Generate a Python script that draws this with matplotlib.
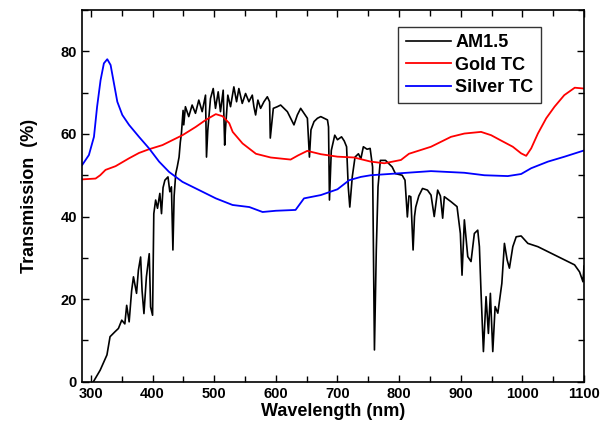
import numpy as np
import matplotlib
matplotlib.use('Agg')
import matplotlib.pyplot as plt
from matplotlib.ticker import MultipleLocator

# AM1.5 spectrum (scaled)
am_wl = [304, 315, 326, 331, 339, 344.6, 350, 355, 358, 362, 366, 369, 374, 377, 380.6,
         383, 386, 390, 394.6, 396.8, 400, 402, 405, 408, 411.8, 414.5, 417, 420, 425,
         428, 430.6, 433, 435, 437.6, 440, 443, 445, 446.8, 449.5, 450.6, 453.3, 458.7,
         464.2, 469.6, 475, 480.5, 485.9, 487.5, 489.6, 494, 498.4, 502.1, 506.5, 510.2,
         514.6, 517, 518.4, 522.1, 526.5, 531.9, 536.3, 540, 545.5, 550.9, 556.3, 561.8,
         564.4, 567.2, 570.9, 575.3, 580.7, 586.2, 589.9, 591, 595.9, 602.4, 607.8,
         613.2, 618.7, 624, 629.4, 634.9, 640.3, 645.7, 651.2, 654.5, 657, 662, 667.5,
         672.9, 678.2, 683.8, 685.5, 687, 690, 695.6, 700, 706.6, 711, 714.8, 717.5, 720,
         722, 724, 728.5, 734, 738, 742, 748, 753, 757, 760, 763, 765.8, 769.6, 778,
         788.8, 794, 805, 809.6, 813.4, 816, 819, 822.7, 825, 827, 832, 838, 846, 851.8,
         857, 862.6, 867, 870.7, 873.4, 884.2, 894, 899.4, 902.1, 905.9, 911.4, 916.7,
         922.1, 927.6, 930.3, 933, 936.8, 941.1, 944.9, 948.1, 952, 955.8, 960.2, 966.7,
         970.9, 975.3, 979, 984.5, 990, 998, 1008.9, 1025.2, 1046.8, 1068.5, 1084.7,
         1092.8, 1098.4, 1100]
am_t = [0, 2.8, 6.5, 10.9, 12.1, 12.9, 14.9, 14.0, 18.5, 14.5, 22, 25.4, 21.4, 27, 30.2,
        22, 16.5, 25.4, 31, 18.1, 16.1, 40.7, 44, 42, 45.6, 40.7, 47, 48.8, 49.6,
        46, 47.2, 31.9, 45, 50.4, 52, 54.4, 58, 60.1, 65.7, 62.2, 66.6, 64.2,
        67, 65, 68.2, 65.4, 69.4, 54.4, 60.9, 68.6, 71, 66.2, 70.2, 65.4,
        70.6, 57.3, 61.4, 69.4, 66.6, 71.4, 67.8, 71, 67.4, 69.8, 67.8, 69.4,
        66.6, 64.6, 68.2, 66.2, 67.8, 69, 67.8, 59, 66.2, 66.6, 67,
        66.2, 65.4, 63.8, 62.2, 64.6, 66.2, 65, 63.8, 54.4, 61, 63, 63.8,
        64.2, 63.8, 63.4, 61.7, 44, 56, 59.7, 58.6, 59.3, 58.3, 56.9, 47.2, 42.3,
        46, 49.6, 54.4, 55.2, 54, 56.9, 56.3, 56.5, 52, 7.7, 31.9, 47.2, 53.6, 53.6,
        52, 50.4, 50, 48.8, 39.9, 45, 44.8, 31.9, 40, 42.3, 45, 46.8, 46.4, 45.2,
        40, 46.4, 45, 39.6, 44.8, 43.6, 42.4, 35.9, 25.8, 39.2, 30.3, 29.1,
        35.9, 36.7, 32.7, 21.4, 7.3, 20.6, 11.7, 21.4, 7.3, 18.2, 16.6, 23.8,
        33.5, 29.5, 27.5, 32.7, 35.1, 35.3, 33.5, 32.7, 31.1, 29.5, 28.3,
        26.6, 24.2, 28]

# Gold TC
gold_wl = [285.9, 307.5, 315, 323.7, 340, 361.8, 378, 394.3, 416, 432.2, 448.5, 470,
           486.3, 502.6, 513.5, 524.4, 530, 546, 567.7, 591.6, 610.8, 624, 636, 651,
           673, 700, 727, 754, 776, 803, 816, 851.7, 884.2, 905.9, 933, 949.3, 965.5,
           984.5, 998, 1006.2, 1014.3, 1025.2, 1038.7, 1052.2, 1068, 1085, 1100]
gold_t = [49, 49.2, 50, 51.3, 52.2, 54.1, 55.4, 56.3, 57.3, 58.5, 59.7, 61.7,
          63.4, 64.8, 64.3, 62.6, 60.5, 57.7, 55.2, 54.3, 54, 53.8, 54.8, 55.9,
          55.1, 54.5, 54.3, 53.3, 52.9, 53.7, 55.2, 56.9, 59.3, 60.1, 60.5, 59.7, 58.4,
          56.9, 55.3, 54.7, 56.5, 60.1, 63.8, 66.6, 69.4, 71.2, 71]

# Silver TC
silver_wl = [285.9, 296.7, 304.9, 310, 315.6, 321, 326.5, 331.9, 337.4, 342.8, 350.9,
             361.8, 378, 394.3, 410.6, 426.8, 448.5, 475.6, 502.6, 529.8, 557, 578.5,
             600, 632, 645.7, 673, 700, 719, 738, 754, 803, 851.7, 905.9, 938.4, 976.4,
             998, 1014.3, 1041.5, 1068.5, 1100]
silver_t = [52.5, 54.9, 59.3, 66.6, 73, 77.1, 78.1, 76.7, 72.2, 67.8, 64.6,
            62.2, 59.3, 56.5, 53.3, 50.8, 48.4, 46.4, 44.4, 42.8, 42.3, 41.1,
            41.4, 41.6, 44.4, 45.2, 46.6, 48.8, 49.6, 50, 50.5, 51, 50.6, 50, 49.8,
            50.3, 51.7, 53.3, 54.5, 56]

plt.rcParams['font.family'] = ['Liberation Sans', 'DejaVu Sans']
plt.rcParams['font.weight'] = 'bold'

fig = plt.figure(figsize=(6.11, 4.38), dpi=100)
ax = fig.add_axes([0.1337, 0.1285, 0.8221, 0.8485])

ax.plot(am_wl, am_t, color='black', lw=1.2, label='AM1.5')
ax.plot(gold_wl, gold_t, color='red', lw=1.3, label='Gold TC')
ax.plot(silver_wl, silver_t, color='blue', lw=1.3, label='Silver TC')

ax.set_xlim(285, 1100)
ax.set_ylim(0, 90)
ax.xaxis.set_major_locator(MultipleLocator(100))
ax.xaxis.set_minor_locator(MultipleLocator(50))
ax.yaxis.set_major_locator(MultipleLocator(20))
ax.yaxis.set_minor_locator(MultipleLocator(10))
ax.tick_params(which='both', direction='in', top=True, right=True, labelsize=10.5, width=1)
ax.tick_params(which='major', length=5)
ax.tick_params(which='minor', length=4)
for s in ax.spines.values():
    s.set_linewidth(1.2)

ax.set_xlabel('Wavelength (nm)', fontsize=13, fontweight='bold', labelpad=2)
ax.set_ylabel('Transmission  (%)', fontsize=13, fontweight='bold', labelpad=16)

leg = ax.legend(loc='upper right', bbox_to_anchor=(0.914, 0.954), fontsize=13,
                frameon=True, fancybox=False, handlelength=2.5, borderpad=0.4,
                labelspacing=0.3, handletextpad=0.25, borderaxespad=0)
leg.get_frame().set_edgecolor('black')
leg.get_frame().set_linewidth(1)

fig.savefig('out.png', dpi=100)
